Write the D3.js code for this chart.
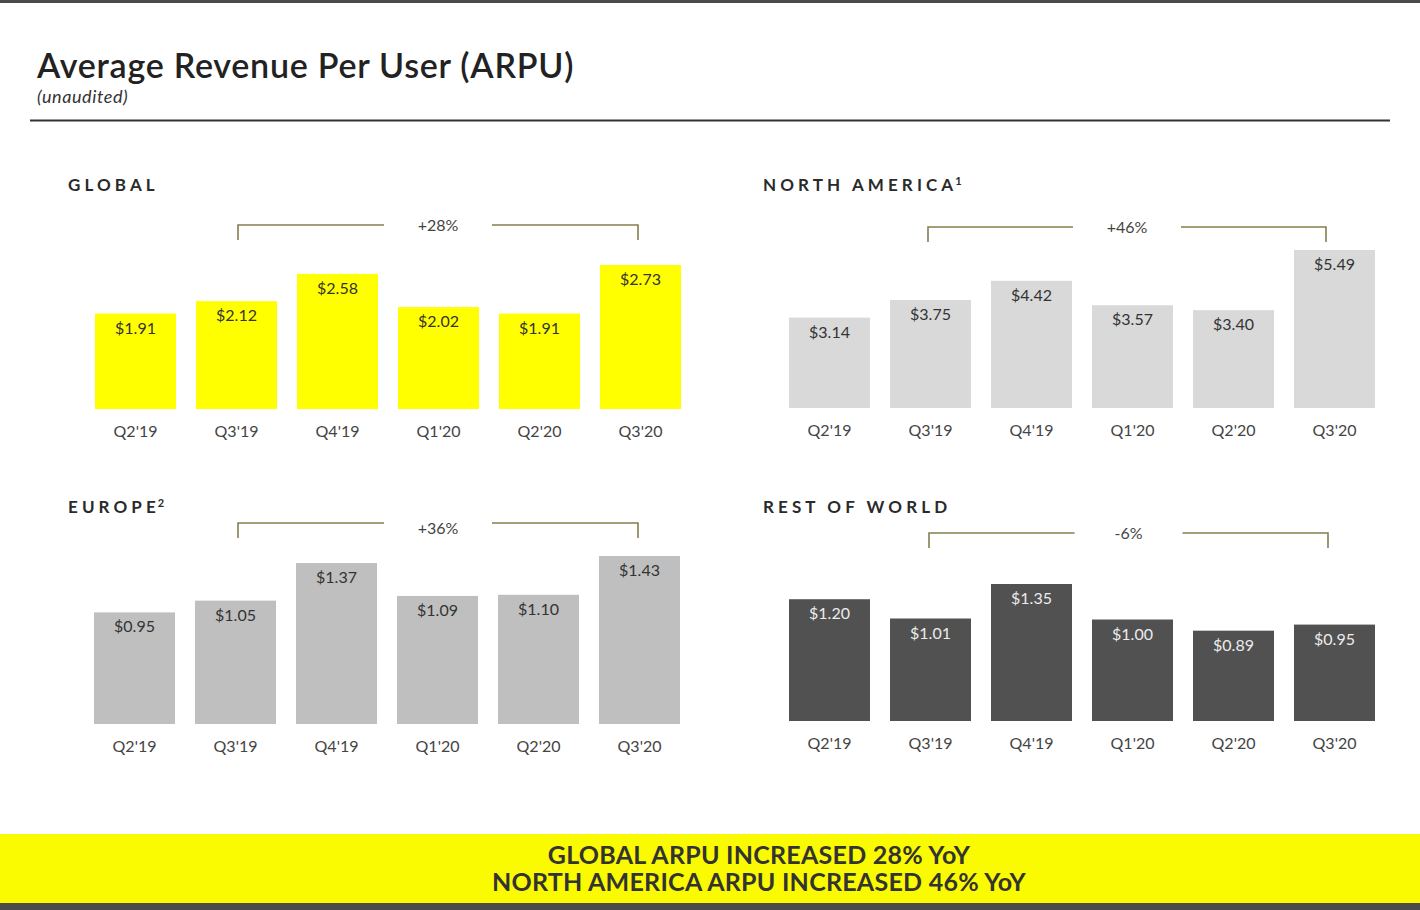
<!DOCTYPE html>
<html><head><meta charset="utf-8">
<script src="https://cdn.jsdelivr.net/npm/d3@7"></script>
<style>
html,body{margin:0;padding:0;background:#fff;}
svg{display:block;font-family:Lato,"Noto Sans",sans-serif;}
</style></head>
<body><div id="chart"></div>
<script>
const quarters = ["Q2'19","Q3'19","Q4'19","Q1'20","Q2'20","Q3'20"];
const globalArpu = [1.91, 2.12, 2.58, 2.02, 1.91, 2.73];
const northAmericaArpu = [3.14, 3.75, 4.42, 3.57, 3.40, 5.49];
const europeArpu = [0.95, 1.05, 1.37, 1.09, 1.10, 1.43];
const restOfWorldArpu = [1.20, 1.01, 1.35, 1.00, 0.89, 0.95];
const panelTitles = ["GLOBAL", "NORTH AMERICA", "EUROPE", "REST OF WORLD"];
const panelNotes = ["", "1", "2", ""];
const growthLabels = ["+28%", "+46%", "+36%", "-6%"];
const bannerLines = ["GLOBAL ARPU INCREASED 28% YoY", "NORTH AMERICA ARPU INCREASED 46% YoY"];

const W = 1420, H = 910;
const svg = d3.select("#chart").append("svg").attr("width", W).attr("height", H);

// frame
svg.append("rect").attr("x",0).attr("y",0).attr("width",W).attr("height",3).attr("fill","#4b4b4b");
svg.append("text").attr("x",37).attr("y",78).attr("font-size",34).attr("font-weight",600)
  .attr("letter-spacing",0.75).attr("fill","#222").text("Average Revenue Per User (ARPU)");
svg.append("text").attr("x",37).attr("y",103).attr("font-size",18).attr("font-style","italic")
  .attr("letter-spacing",0.6).attr("fill","#333").text("(unaudited)");
svg.append("line").attr("x1",30).attr("x2",1390).attr("y1",120.5).attr("y2",120.5)
  .attr("stroke","#333").attr("stroke-width",2);

const panels = [
  {title:panelTitles[0], note:panelNotes[0], values:globalArpu, growth:growthLabels[0], fill:"#ffff00", label:"#333",
   tx:68, ty:191, x0:85, base:409, dmin:0.3, top:265, by:225, bx:[238,638], toff:6},
  {title:panelTitles[1], note:panelNotes[1], values:northAmericaArpu, growth:growthLabels[1], fill:"#d9d9d9", label:"#333",
   tx:763, ty:191, x0:779, base:408, dmin:0, top:250, by:227, bx:[928,1326], toff:6},
  {title:panelTitles[2], note:panelNotes[2], values:europeArpu, growth:growthLabels[2], fill:"#bfbfbf", label:"#333",
   tx:68, ty:513, x0:84, base:724, dmin:0, top:556, by:523, bx:[238,638], toff:11},
  {title:panelTitles[3], note:panelNotes[3], values:restOfWorldArpu, growth:growthLabels[3], fill:"#515151", label:"#ececec",
   tx:763, ty:513, x0:779, base:721, dmin:0, top:584, by:533, bx:[929,1328], toff:6},
];

panels.forEach(p => {
  const g = svg.append("g");
  const t = g.append("text").attr("x",p.tx).attr("y",p.ty).attr("font-size",17).attr("font-weight",700)
    .attr("letter-spacing",4.1).attr("fill","#2a2a2a").text(p.title);
  if (p.note) {
    t.append("tspan").attr("font-size",11).attr("dy",-6).attr("dx",-2).attr("letter-spacing",0).text(p.note);
  }

  const x = d3.scaleBand().domain(quarters).range([p.x0, p.x0 + 606])
    .paddingInner(20/101).paddingOuter(10/101);
  const y = d3.scaleLinear().domain([p.dmin, d3.max(p.values)]).range([p.base, p.top]);
  const data = quarters.map((q,i)=>({q, v:p.values[i]}));

  g.selectAll("rect.bar").data(data).join("rect").attr("class","bar")
    .attr("x", d=>x(d.q)).attr("width", x.bandwidth())
    .attr("y", d=>y(d.v)).attr("height", d=>p.base - y(d.v))
    .attr("fill", p.fill);

  g.selectAll("text.val").data(data).join("text").attr("class","val")
    .attr("x", d=>x(d.q)+x.bandwidth()/2).attr("y", d=>y(d.v)+20)
    .attr("text-anchor","middle").attr("font-size",16).attr("fill",p.label)
    .text(d=>"$"+d.v.toFixed(2));

  // x axis labels via d3 axis
  const ax = g.append("g").attr("transform",`translate(0,${p.base})`)
    .call(d3.axisBottom(x).tickSize(0).tickPadding(14));
  ax.select(".domain").remove();
  ax.selectAll("text").attr("font-size",16).attr("fill","#444")
    .attr("font-family","Lato, 'Noto Sans', sans-serif").attr("dy","0.9em");

  // growth bracket
  const [xa, xb] = p.bx;
  const xm = (xa + xb)/2;
  const gap = 54;
  const col = "#857d4f";
  g.append("path").attr("fill","none").attr("stroke",col).attr("stroke-width",1.6)
    .attr("d",`M${xa},${p.by+15}V${p.by}H${xm-gap}M${xm+gap},${p.by}H${xb}V${p.by+15}`);
  g.append("text").attr("x",xm).attr("y",p.by+p.toff).attr("text-anchor","middle")
    .attr("font-size",16).attr("fill","#444").text(p.growth);
});

// banner
svg.append("rect").attr("x",0).attr("y",834).attr("width",W).attr("height",70).attr("fill","#fafa00");
svg.append("rect").attr("x",0).attr("y",903).attr("width",W).attr("height",7).attr("fill","#4b4b4b");
bannerLines.forEach((t,i)=>{
  svg.append("text").attr("x",759).attr("y",864 + i*27).attr("text-anchor","middle")
    .attr("font-size",25).attr("font-weight",700).attr("letter-spacing",0.25)
    .attr("fill","#333").text(t);
});
</script></body></html>
